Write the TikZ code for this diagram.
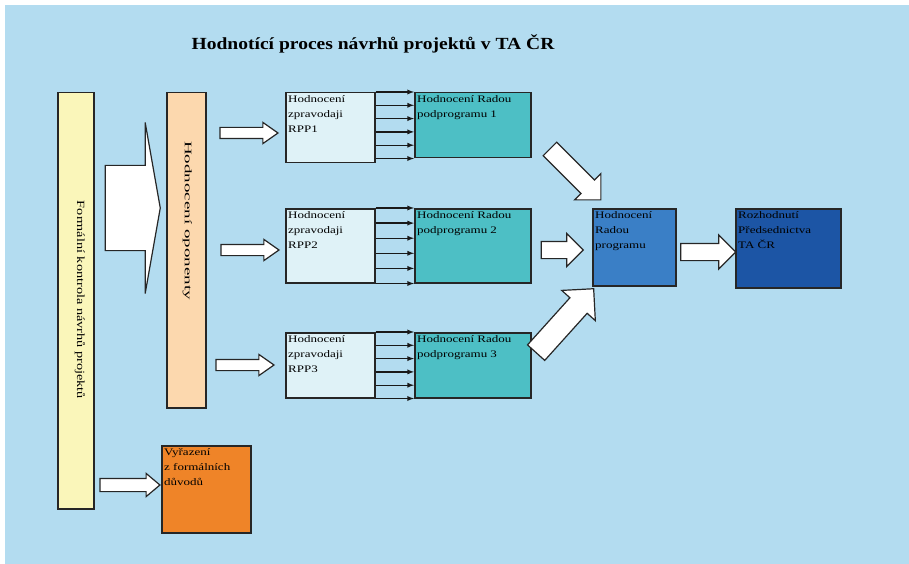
\documentclass[tikz,border=0pt]{standalone}
\usepackage{fontspec}
\setmainfont{Liberation Serif}
\newfontfamily\widefont[FakeStretch=1.3]{Liberation Serif}
\newfontfamily\titlefont[FakeStretch=1.15]{Liberation Serif}
\newfontfamily\oponfont[FakeStretch=1.9]{Liberation Serif}
\usepackage{tikz}
\usetikzlibrary{calc}
\usetikzlibrary{arrows}
\usetikzlibrary{shapes.arrows}
\definecolor{panelblue}{HTML}{B3DCF0}
\definecolor{formyellow}{HTML}{FAF6BA}
\definecolor{oponpeach}{HTML}{FCD8AE}
\definecolor{rppcyan}{HTML}{DFF2F7}
\definecolor{radateal}{HTML}{4DBFC5}
\definecolor{progblue}{HTML}{3A7FC6}
\definecolor{predblue}{HTML}{1C55A5}
\definecolor{vyrorange}{HTML}{EF8428}
\tikzset{box/.style={draw=black!85, line width=1.5pt, anchor=north west, inner sep=0pt}}
\tikzset{boxtext/.style={anchor=north west, inner sep=3pt, align=left,
    font=\widefont\fontsize{10}{15}\selectfont, text=black}}
\tikzset{fatarrow/.style={single arrow, draw=black!85, fill=white, line width=1.2pt,
    inner xsep=0pt, minimum width=0pt, single arrow head indent=0pt}}
\tikzset{thinarrow/.style={-latex, draw=black!90, line width=1.3pt}}

\begin{document}
\begin{tikzpicture}[x=1pt,y=-1pt]
  \useasboundingbox (0,0) rectangle (909,564);
  \fill[panelblue] (5,5) rectangle (909,564);
  \node[font=\titlefont\bfseries\fontsize{17}{20}\selectfont] (title) at (373,44)
    {Hodnotící proces návrhů projektů v TA ČR};
  \foreach \x/\y/\w/\h/\col/\name in {
    57/92/36/416/formyellow/form,
    166/92/39/315/oponpeach/opon,
    285/92/89/70/rppcyan/rpp1,
    414/92/116/65/radateal/rada1,
    285/208/89/74/rppcyan/rpp2,
    414/208/116/74/radateal/rada2,
    285/332/89/65/rppcyan/rpp3,
    414/332/116/65/radateal/rada3,
    592/208/83/77/progblue/rprog,
    735/208/105/79/predblue/rozh,
    161/445/89/87/vyrorange/vyr%
  } {
    \node[box, fill=\col, minimum width=\w pt, minimum height=\h pt] (\name) at (\x,\y) {};
  }
  \node[boxtext, font=\widefont\fontsize{11}{15}\selectfont, rotate=-90, anchor=center]
    (formtext) at (80,300) {Formální kontrola návrhů projektů};
  \node[boxtext, font=\oponfont\fontsize{10}{15}\selectfont, rotate=-90, anchor=north west]
    (opontext) at (195,138) {Hodnocení oponenty};
  \foreach \name/\lab in {
    rpp1/{Hodnocení\\zpravodaji\\RPP1},
    rpp2/{Hodnocení\\zpravodaji\\RPP2},
    rpp3/{Hodnocení\\zpravodaji\\RPP3},
    rada1/{Hodnocení Radou\\podprogramu 1},
    rada2/{Hodnocení Radou\\podprogramu 2},
    rada3/{Hodnocení Radou\\podprogramu 3},
    rprog/{Hodnocení\\Radou\\programu},
    rozh/{Rozhodnutí\\Předsednictva\\TA ČR},
    vyr/{Vyřazení\\z formálních\\důvodů}%
  } {
    \node[boxtext] (\name text) at (\name.north west) {\lab};
  }
  \foreach \i in {1,2,3} {
    \foreach \k in {0,...,5} {
      \coordinate (t\i\k) at ($(rada\i.north west)!\k/5!(rada\i.south west)$);
      \draw[thinarrow] (t\i\k -| rpp\i.east) -- (t\i\k);
    }
  }
  \foreach \x/\y/\len/\sh/\ext/\tip/\ang/\name in {
    129/208/55/42/43/160/0/abig,
    245/133/58/5/5/70/0/aopon1,
    246/250/58/5/5/70/0/aopon2,
    241/365/58/5/5/70/0/aopon3,
    572/171/72/9/9/90/-45/arada1,
    558/250/42/8/8/90/0/arada2,
    561/325/86/11/11/90/48/arada3,
    704/252/55/8/8.5/90/0/aprog,
    126/485/60/6/5/80/0/avyr%
  } {
    \node[fatarrow, minimum height=\len pt, inner ysep=\sh pt,
      single arrow head extend=\ext pt, single arrow tip angle=\tip,
      rotate=\ang] (\name) at (\x,\y) {};
  }
\end{tikzpicture}
\end{document}
